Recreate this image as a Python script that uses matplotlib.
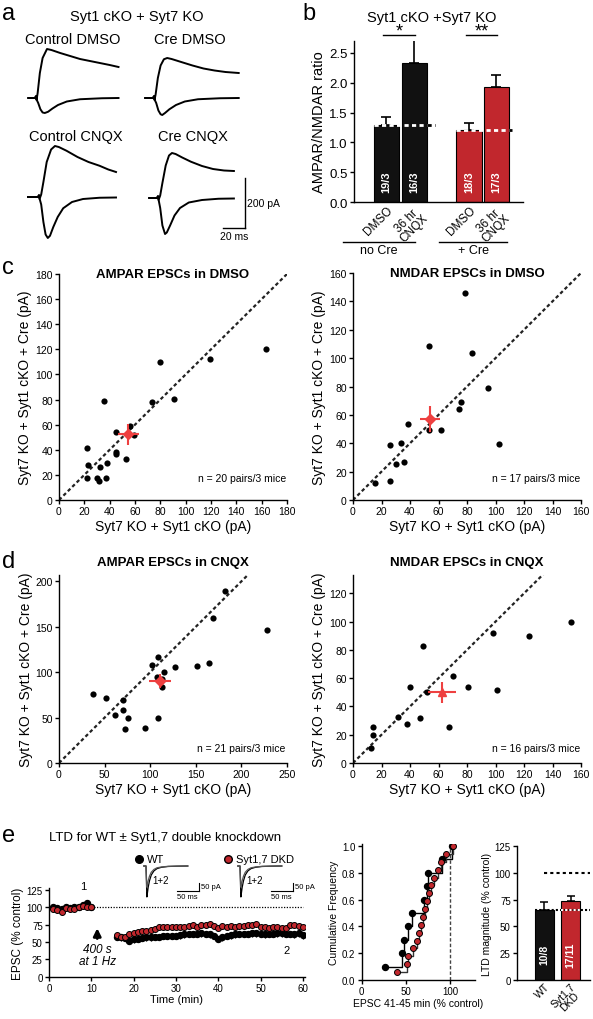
import matplotlib
matplotlib.use('Agg')
import matplotlib.pyplot as plt
from matplotlib.lines import Line2D

plt.rcParams['font.family'] = ['Liberation Sans', 'DejaVu Sans']
plt.rcParams['axes.linewidth'] = 1.0
plt.rcParams['xtick.major.width'] = 1.0
plt.rcParams['ytick.major.width'] = 1.0
plt.rcParams['xtick.major.size'] = 3
plt.rcParams['ytick.major.size'] = 3

BLACK = '#111111'
RED = '#C1272D'
MEANRED = '#EE4040'

# ---------------- Panel a: example traces (ms, pA) ----------------
ctrl_dmso_up_t = [-7, -1, 0, 0.5, 1.5, 3.5, 6, 10, 14, 22, 31, 40, 49, 58, 67, 75]
ctrl_dmso_up_a = [0, 0, 8, -8, 20, 100, 160, 196, 192, 180, 168, 156, 148, 140, 132, 124]
ctrl_dmso_dn_t = [-7, -1, 0, 0.5, 2, 4, 6, 8, 11, 15, 20, 28, 40, 60, 75]
ctrl_dmso_dn_a = [0, 0, 6, -6, -20, -45, -58, -60, -55, -42, -28, -14, -5, -1, 0]

cre_dmso_up_t = [-8, -1, 0, 0.5, 1.5, 3.5, 6, 9, 12, 16, 24, 35, 45, 55, 65, 77]
cre_dmso_up_a = [0, 0, 8, -8, 15, 80, 130, 155, 160, 156, 145, 130, 118, 110, 104, 100]
cre_dmso_dn_t = [-8, -1, 0, 0.5, 2, 4, 6, 7.5, 10, 14, 20, 28, 40, 60, 77]
cre_dmso_dn_a = [0, 0, 6, -6, -20, -50, -65, -68, -60, -45, -28, -14, -5, -1, 0]

ctrl_cnqx_up_t = [-10, -1, 0, 0.5, 2, 4, 7, 11, 14.5, 18, 25, 35, 45, 55, 63, 70]
ctrl_cnqx_up_a = [0, 0, 8, -8, 10, 60, 140, 190, 204, 200, 185, 160, 140, 125, 110, 100]
ctrl_cnqx_dn_t = [-10, -1, 0, 0.5, 2, 4, 6, 8, 10, 13, 17, 22, 30, 40, 55, 70]
ctrl_cnqx_dn_a = [0, 0, 6, -6, -30, -100, -150, -164, -155, -120, -80, -45, -20, -8, -3, -2]

cre_cnqx_up_t = [-8, -1, 0, 0.5, 2, 4, 7, 10, 12.7, 16, 22, 30, 40, 50, 60, 69]
cre_cnqx_up_a = [0, 0, 8, -8, 10, 60, 130, 170, 180, 176, 162, 145, 128, 116, 110, 108]
cre_cnqx_dn_t = [-8, -1, 0, 0.5, 2, 4, 6.4, 8, 11, 15, 20, 28, 40, 55, 69]
cre_cnqx_dn_a = [0, 0, 6, -6, -40, -110, -144, -138, -110, -70, -40, -18, -8, -3, -2]

trace_titles = ['Control DMSO', 'Cre DMSO', 'Control CNQX', 'Cre CNQX']
scale_ms = 20
scale_pA = 200

# ---------------- Panel b: AMPAR/NMDAR ratio ----------------
ratio_labels = ['DMSO', '36 hr\nCNQX', 'DMSO', '36 hr\nCNQX']
ratio_mean = [1.29, 2.33, 1.21, 1.93]
ratio_sem = [0.13, 0.38, 0.12, 0.19]
ratio_n = ['19/3', '16/3', '18/3', '17/3']
ratio_groups = ['no Cre', '+ Cre']
ratio_sig = ['*', '**']

# ---------------- Panel c: DMSO scatter ----------------
ampa_dmso_x = [163.4, 119.1, 80.1, 35.8, 73.8, 90.9, 55.9, 45.3, 59.3, 21.9,
               44.8, 45.3, 52.7, 22.9, 32.4, 38.0, 21.9, 30.3, 31.4, 37.2]
ampa_dmso_y = [120.6, 112.4, 109.8, 78.9, 78.1, 80.2, 58.6, 54.1, 51.5, 41.7,
               38.5, 36.7, 32.7, 27.7, 25.9, 29.8, 17.4, 17.4, 15.3, 17.2]
ampa_dmso_mean = (54.8, 52.2)
ampa_dmso_err = (8, 8)

nmda_dmso_x = [78.7, 53.4, 83.3, 94.6, 76.1, 74.7, 38.7, 53.4, 61.8, 102.6,
               26.0, 33.5, 30.2, 35.6, 25.8, 15.2, 55.0]
nmda_dmso_y = [145.9, 108.5, 103.5, 78.6, 69.0, 64.1, 53.3, 49.5, 49.1, 39.2,
               39.0, 39.9, 25.1, 26.5, 13.4, 11.7, 57.0]
nmda_dmso_mean = (54.3, 57.0)
nmda_dmso_err = (7, 9)

# ---------------- Panel d: CNQX scatter ----------------
ampa_cnqx_x = [181.5, 169.1, 227.7, 108.7, 102.5, 115.3, 127.0, 151.2, 164.3, 112.7, 37.3,
               52.0, 70.3, 70.6, 61.1, 75.4, 108.3, 72.5, 94.4, 113.0, 108.0]
ampa_cnqx_y = [189.0, 159.4, 146.5, 117.2, 107.7, 100.7, 105.5, 106.9, 110.2, 83.2, 76.2,
               71.4, 69.6, 57.9, 52.7, 49.1, 49.1, 37.4, 38.8, 93.0, 95.0]
ampa_cnqx_mean = (110.9, 90.5)
ampa_cnqx_err = (12, 8)

nmda_cnqx_x = [152.7, 98.1, 123.2, 49.2, 70.0, 40.1, 80.6, 101.2, 51.8, 31.4,
               37.9, 47.3, 67.5, 14.1, 13.8, 12.6]
nmda_cnqx_y = [99.5, 91.8, 89.6, 83.1, 61.2, 53.9, 53.9, 51.3, 50.4, 32.7,
               27.5, 32.0, 25.2, 25.2, 19.5, 10.6]
nmda_cnqx_mean = (62.3, 50.1)
nmda_cnqx_err = (10, 7.5)

# ---------------- Panel e: LTD ----------------
t_base = [1, 2, 3, 4, 5, 6, 7, 8, 9, 10]
wt_base = [100, 99, 98, 100, 99, 100, 101, 103, 106, 101]
dkd_base = [97, 96, 94, 99, 97, 97, 100, 102, 101, 101]
t_post = [16, 17, 18, 19, 20, 21, 22, 23, 24, 25, 26, 27, 28, 29, 30, 31, 32, 33, 34, 35, 36, 37, 38,
          39, 40, 41, 42, 43, 44, 45, 46, 47, 48, 49, 50, 51, 52, 53, 54, 55, 56, 57, 58, 59, 60]
wt_post = [58, 57, 56, 52, 54, 55, 56, 57, 57, 58, 58, 59, 59, 59, 59, 60, 61, 62, 62, 62, 63, 62, 61,
           59, 55, 57, 59, 60, 61, 62, 62, 62, 63, 63, 62, 61, 62, 62, 63, 63, 62, 62, 61, 63, 60]
dkd_post = [60, 58, 58, 61, 63, 65, 66, 66, 68, 69, 72, 71, 71, 71, 71, 71, 71, 73, 74, 72, 75, 74, 76,
            73, 70, 73, 71, 73, 71, 73, 73, 74, 75, 76, 71, 72, 70, 71, 71, 70, 70, 75, 74, 73, 72]
wt_sem = 5.0
dkd_sem = 3.0

inset_t = [-5, 0, 1, 2, 3, 5, 8, 12, 18, 25, 35, 50, 70, 95]
inset_1 = [0, 0, -100, -190, -170, -130, -90, -55, -30, -16, -8, -3, -1, 0]
inset_2 = [0, 0, -70, -130, -118, -90, -62, -38, -21, -11, -6, -2, -1, 0]
inset_scale_ms = 50
inset_scale_pA = 50

wt_cum_x = [26, 45, 48, 52, 57, 70, 74, 75, 91, 102]
wt_cum_y = [0.1, 0.2, 0.3, 0.4, 0.5, 0.6, 0.7, 0.8, 0.9, 1.0]
dkd_cum_x = [40, 51, 52, 58, 62, 65, 67, 69, 72, 74, 76, 78, 82, 86, 90, 95, 103]
dkd_cum_y = [0.06, 0.12, 0.18, 0.24, 0.29, 0.35, 0.41, 0.47, 0.53, 0.59, 0.65,
             0.71, 0.76, 0.82, 0.88, 0.94, 1.0]

ltd_labels = ['WT', 'Syt1,7\nDKD']
ltd_mean = [65, 74]
ltd_sem = [8, 4.5]
ltd_n = ['10/8', '17/11']

# =================================================================
W, H = 593, 1020
fig = plt.figure(figsize=(W / 100, H / 100), dpi=100)


def px_axes(x0, y0, x1, y1):
    return fig.add_axes([x0 / W, 1 - y1 / H, (x1 - x0) / W, (y1 - y0) / H])


def ftext(x, y, s, **kw):
    fig.text(x / W, 1 - y / H, s, **kw)


def fline(xs, ys, **kw):
    fig.add_artist(Line2D([x / W for x in xs], [1 - y / H for y in ys], **kw))


def style(ax):
    for s in ['top', 'right']:
        ax.spines[s].set_visible(False)
    ax.tick_params(direction='out', colors='black', labelsize=7.5, pad=1.5)


# panel letters
for letter, (lx, ly) in zip('abcde', [(2, 14), (302, 14), (2, 268), (2, 562), (2, 836)]):
    ftext(lx, ly, letter, fontsize=17, va='center', ha='left')

# ---------------- Panel a ----------------
ftext(137, 17, 'Syt1 cKO + Syt7 KO', fontsize=10.5, ha='center', va='center')
trace_sets = [
    (36, 99, ctrl_dmso_up_t, ctrl_dmso_up_a, ctrl_dmso_dn_t, ctrl_dmso_dn_a, (73, 40)),
    (154, 99, cre_dmso_up_t, cre_dmso_up_a, cre_dmso_dn_t, cre_dmso_dn_a, (190, 40)),
    (39, 198, ctrl_cnqx_up_t, ctrl_cnqx_up_a, ctrl_cnqx_dn_t, ctrl_cnqx_dn_a, (76, 137)),
    (158, 199, cre_cnqx_up_t, cre_cnqx_up_a, cre_cnqx_dn_t, cre_cnqx_dn_a, (193, 137)),
]
SX, SY = 1.1, 0.25
T0, T1, A0, A1 = -12, 100, -200, 230
trace_axes = []
for (sx0, by0, ut, ua, dt, da, (tx, ty)), title in zip(trace_sets, trace_titles):
    ax = px_axes(sx0 + T0 * SX, by0 - A1 * SY, sx0 + T1 * SX, by0 - A0 * SY)
    ax.set_xlim(T0, T1)
    ax.set_ylim(A0, A1)
    ax.axis('off')
    ax.plot(ut, ua, color='black', lw=1.4)
    ax.plot(dt, da, color='black', lw=1.4)
    ftext(tx, ty, title, fontsize=10.5, ha='center', va='center')
    trace_axes.append(ax)
axs = trace_axes[3]
bar_t = 79
axs.plot([bar_t, bar_t], [-120, -120 + scale_pA], color='black', lw=1, clip_on=False)
axs.plot([bar_t - scale_ms, bar_t], [-120, -120], color='black', lw=1, clip_on=False)
axs.text(bar_t + 2, -120 + scale_pA / 2, f'{scale_pA} pA', fontsize=7.5, ha='left', va='center')
axs.text(bar_t - scale_ms / 2, -132, f'{scale_ms} ms', fontsize=7.5, ha='center', va='top')

# ---------------- Panel b ----------------
axb = px_axes(354, 41.7, 523, 203.3)
style(axb)
pos = [0, 1, 2.95, 3.92]
cols = [BLACK, BLACK, RED, RED]
axb.bar(pos, ratio_mean, width=0.9, color=cols, edgecolor='black', linewidth=0.8, zorder=2)
axb.errorbar(pos, ratio_mean, yerr=[[0] * 4, ratio_sem], fmt='none', ecolor='black',
             elinewidth=1.2, capsize=3.5, capthick=1.2, zorder=1)
axb.set_xlim(-1.16, 4.875)
axb.set_ylim(0, 2.7)
axb.set_yticks([0, 0.5, 1.0, 1.5, 2.0, 2.5])
axb.set_yticklabels(['0.0', '0.5', '1.0', '1.5', '2.0', '2.5'], fontsize=9.5)
axb.set_xticks(pos)
axb.set_xticklabels(ratio_labels, rotation=45, ha='right', va='top', rotation_mode='anchor',
                    fontsize=8.5, linespacing=0.85, multialignment='center')
axb.tick_params(axis='x', length=0, pad=1)
axb.set_ylabel('AMPAR/NMDAR ratio', fontsize=10.5, labelpad=2)
# baseline dashed lines
for (xa, xb, xc, yv) in [(-0.45, 1.45, 1.75, ratio_mean[0]), (2.5, 4.37, 4.47, ratio_mean[2])]:
    axb.plot([xa, xb], [yv, yv], color='white', lw=2, ls=(0, (1.5, 1.2)), zorder=3)
    axb.plot([xb, xc], [yv, yv], color='black', lw=2, ls=(0, (1.5, 1.2)), zorder=3)
for p, lab in zip(pos, ratio_n):
    axb.text(p, 0.36, lab, rotation=90, color='white', fontsize=8, fontweight='bold',
             ha='center', va='center', zorder=4)
for (xa, xb), s in zip([(-0.125, 1.02), (2.84, 3.95)], ratio_sig):
    axb.plot([xa, xb], [2.79, 2.79], color='black', lw=1, clip_on=False)
    axb.text((xa + xb) / 2, 2.86, s, fontsize=13, ha='center', va='center')
ftext(432, 18, 'Syt1 cKO +Syt7 KO', fontsize=10.5, ha='center', va='center')
fline([343, 415], [243, 243], color='black', lw=1)
fline([439, 507], [243, 243], color='black', lw=1)
ftext(379, 251.5, ratio_groups[0], fontsize=9, ha='center', va='center')
ftext(473, 251.5, ratio_groups[1], fontsize=9, ha='center', va='center')


# ---------------- Scatter panels ----------------
def scatter_panel(box, xs, ys, mean, err, xlim, ylim, xticks, yticks, title, title_y, ntext, n_y, marker):
    ax = px_axes(*box)
    style(ax)
    ax.set_xlim(*xlim)
    ax.set_ylim(*ylim)
    top = max(xlim[1], ylim[1])
    ax.plot([0, top], [0, top], color='#222222', lw=1.6, ls=(0, (1.6, 1.2)), zorder=1)
    ax.scatter(xs, ys, s=20, color='black', zorder=2, linewidths=0)
    ax.errorbar([mean[0]], [mean[1]], xerr=[err[0]], yerr=[err[1]], fmt=marker, color=MEANRED,
                ms=5.5, elinewidth=1.5, capsize=0, zorder=3)
    ax.set_xticks(xticks)
    ax.set_yticks(yticks)
    ax.set_xlabel('Syt7 KO + Syt1 cKO (pA)', fontsize=10, labelpad=2)
    ax.set_ylabel('Syt7 KO + Syt1 cKO + Cre (pA)', fontsize=10, labelpad=2)
    ax.text(0.5, title_y, title, transform=ax.transAxes, fontsize=9.5, fontweight='bold',
            ha='center', va='center')
    ax.text(0.995, n_y, ntext, transform=ax.transAxes, fontsize=7.5, ha='right', va='center')
    return ax


scatter_panel((59, 275, 287, 501), ampa_dmso_x, ampa_dmso_y, ampa_dmso_mean, ampa_dmso_err,
              (0, 180), (0, 180), range(0, 181, 20), range(0, 181, 20),
              'AMPAR EPSCs in DMSO', 1.0, 'n = 20 pairs/3 mice', 0.097, 'D')
scatter_panel((353, 274, 581, 501), nmda_dmso_x, nmda_dmso_y, nmda_dmso_mean, nmda_dmso_err,
              (0, 160), (0, 160), range(0, 161, 20), range(0, 161, 20),
              'NMDAR EPSCs in DMSO', 1.0, 'n = 17 pairs/3 mice', 0.097, 'D')
scatter_panel((59, 576, 287, 764), ampa_cnqx_x, ampa_cnqx_y, ampa_cnqx_mean, ampa_cnqx_err,
              (0, 250), (0, 207), range(0, 251, 50), range(0, 201, 50),
              'AMPAR EPSCs in CNQX', 1.07, 'n = 21 pairs/3 mice', 0.08, 'D')
scatter_panel((353, 576, 581, 764), nmda_cnqx_x, nmda_cnqx_y, nmda_cnqx_mean, nmda_cnqx_err,
              (0, 160), (0, 133), range(0, 161, 20), range(0, 121, 20),
              'NMDAR EPSCs in CNQX', 1.07, 'n = 16 pairs/3 mice', 0.08, '^')

# ---------------- Panel e left ----------------
ftext(49, 838, 'LTD for WT \u00b1 Syt1,7 double knockdown', fontsize=9.5, ha='left', va='center')
axe = px_axes(49, 889, 305, 977.7)
style(axe)
axe.set_xlim(0, 60.5)
axe.set_ylim(0, 128)
axe.set_xticks(range(0, 61, 10))
axe.set_yticks(range(0, 126, 25))
axe.tick_params(labelsize=7)
axe.plot([10, 60], [100, 100], color='black', lw=0.9, ls=(0, (1, 1.2)), zorder=1)
n_all = len(t_base) + len(t_post)
axe.errorbar(t_base + t_post, wt_base + wt_post, yerr=[[wt_sem] * n_all, [0] * n_all],
             fmt='o', color='black', mfc='black', mec='black', ms=4.3, elinewidth=0.9, capsize=0, zorder=2)
axe.errorbar(t_base + t_post, dkd_base + dkd_post, yerr=[[0] * n_all, [dkd_sem] * n_all],
             fmt='o', color='black', mfc=RED, mec='black', mew=0.7, ms=4.3, elinewidth=0.9, capsize=0, zorder=3)
axe.set_xlabel('Time (min)', fontsize=8, labelpad=1)
axe.set_ylabel('EPSC (% control)', fontsize=8.5, labelpad=2)
axe.text(8.2, 131, '1', fontsize=8, ha='center', va='center')
axe.text(56.2, 39, '2', fontsize=8, ha='center', va='center')
axe.annotate('', xy=(11.4, 74), xytext=(11.4, 51),
             arrowprops=dict(arrowstyle='-|>', color='black', lw=2.0, mutation_scale=11))
axe.text(11.4, 31, '400 s\nat 1 Hz', fontsize=8.5, style='italic', ha='center', va='center', linespacing=1.0)

# legend
fig.add_artist(Line2D([139 / W], [1 - 860 / H], marker='o', ms=5.5, color='black', ls='none'))
fig.add_artist(Line2D([228 / W], [1 - 860 / H], marker='o', ms=5.5, mfc=RED, mec='black', ls='none'))
ftext(147, 860, 'WT', fontsize=8, va='center', ha='left')
ftext(236, 860, 'Syt1,7 DKD', fontsize=8, va='center', ha='left')

# insets
ISX, ISY = 0.44, 0.163
for start_x in [146, 240]:
    axi = px_axes(start_x - 6 * ISX, 867 - 20 * ISY, start_x + 125 * ISX, 867 + 220 * ISY)
    axi.set_xlim(-6, 125)
    axi.set_ylim(-220, 20)
    axi.axis('off')
    axi.plot(inset_t, inset_1, color='black', lw=0.9)
    axi.plot(inset_t, inset_2, color='#555555', lw=0.9)
    axi.text(32, -86, '1+2', fontsize=7, ha='center', va='center')
    sbx = 120
    axi.plot([sbx, sbx], [-153, -153 + inset_scale_pA], color='black', lw=0.8, clip_on=False)
    axi.plot([sbx - inset_scale_ms, sbx], [-153, -153], color='black', lw=0.8, clip_on=False)
    axi.text(sbx + 4, -128, f'{inset_scale_pA} pA', fontsize=5.5, ha='left', va='center')
    axi.text(sbx - inset_scale_ms / 2, -165, f'{inset_scale_ms} ms', fontsize=5.5, ha='center', va='top')

# ---------------- Panel e middle ----------------
axc = px_axes(361.7, 845, 475, 981)
style(axc)
axc.set_xlim(0, 128)
axc.set_ylim(0, 1.015)
axc.set_xticks([0, 50, 100])
axc.set_yticks([0, 0.2, 0.4, 0.6, 0.8, 1.0])
axc.set_yticklabels(['0.0', '0.2', '0.4', '0.6', '0.8', '1.0'])
axc.tick_params(labelsize=7)
axc.plot([100, 100], [0, 1.015], color='#444444', lw=1, ls=(0, (2.5, 1.5)), zorder=1)
axc.step(wt_cum_x, wt_cum_y, where='post', color='black', lw=1, zorder=2)
axc.step(dkd_cum_x, dkd_cum_y, where='post', color='#333333', lw=1, zorder=2)
axc.plot(wt_cum_x, wt_cum_y, 'o', color='black', ms=4.3, zorder=3)
axc.plot(dkd_cum_x, dkd_cum_y, 'o', mfc=RED, mec='black', mew=0.7, ms=4.3, zorder=4)
axc.set_xlabel('EPSC 41-45 min (% control)', fontsize=7.5, labelpad=1)
axc.set_ylabel('Cumulative Frequency', fontsize=7.5, labelpad=2)

# ---------------- Panel e right ----------------
axr = px_axes(517, 847, 590, 981)
style(axr)
axr.set_xlim(-1.04, 1.74)
axr.set_ylim(0, 125)
axr.set_yticks(range(0, 126, 25))
axr.tick_params(labelsize=7)
lpos = [0, 1]
axr.bar(lpos, ltd_mean, width=0.72, color=[BLACK, RED], edgecolor='black', linewidth=0.8, zorder=2)
axr.errorbar(lpos, ltd_mean, yerr=[[0, 0], ltd_sem], fmt='none', ecolor='black',
             elinewidth=1.1, capsize=3, capthick=1.1, zorder=1)
axr.plot([0, 1.74], [100, 100], color='black', lw=1.5, ls=(0, (1.5, 1.5)), zorder=3)
axr.plot([-0.36, 1.74], [ltd_mean[0], ltd_mean[0]], color='black', lw=1.5, ls=(0, (1, 1)), zorder=3)
axr.plot([0.64, 1.36], [ltd_mean[0], ltd_mean[0]], color='white', lw=1.5, ls=(0, (1, 1)), zorder=3)
for p, lab in zip(lpos, ltd_n):
    axr.text(p, 24, lab, rotation=90, color='white', fontsize=7.5, fontweight='bold',
             ha='center', va='center', zorder=4)
axr.set_xticks(lpos)
axr.set_xticklabels(ltd_labels, rotation=45, ha='right', va='top', rotation_mode='anchor',
                    fontsize=7.5, linespacing=0.85, multialignment='center')
axr.tick_params(axis='x', length=0, pad=1)
axr.set_ylabel('LTD magnitude (% control)', fontsize=7.5, labelpad=2)

fig.savefig('out.png', dpi=100)
